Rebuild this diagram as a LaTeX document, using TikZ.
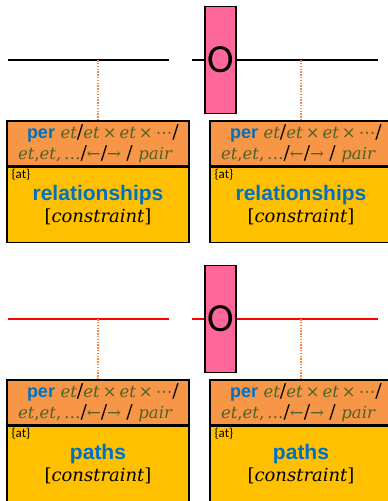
\documentclass[tikz,border=0pt]{standalone}
\usepackage{fontspec}
\setsansfont{Carlito}
\newfontfamily\eqfont{DejaVu Serif}
\newfontfamily\symfont{DejaVu Sans}
\newfontfamily\kwfont{Liberation Sans}
\usetikzlibrary{positioning}

\definecolor{hdrorange}{RGB}{247,150,70}
\definecolor{bodygold}{RGB}{255,192,0}
\definecolor{gatepink}{RGB}{255,102,153}
\definecolor{kwblue}{RGB}{0,112,192}
\definecolor{typegreen}{RGB}{79,98,40}

% header of a relation box
\newcommand{\gr}[1]{{\eqfont\color{typegreen}#1}}
\newcommand{\slsh}{{\eqfont\fontsize{19}{20}\selectfont/}}
\newcommand{\tms}{\hspace{3pt}×\hspace{3pt}}
\newcommand{\hdrtext}{%
  \hspace*{14pt}\mbox{{\kwfont\bfseries\color{kwblue}\fontsize{18}{21}\selectfont per} \gr{\textit{et}}\slsh\gr{\textit{et}\tms\textit{et}\tms{\symfont ⋯}}\slsh}\\
  \hspace*{5pt}\mbox{\gr{\textit{et},\textit{et},\,…}\slsh\gr{←}\slsh\gr{→} \slsh{} \gr{\textit{pair}}}}
\newcommand{\bodytext}[1]{%
  {\kwfont\bfseries\color{kwblue}\fontsize{21}{23}\selectfont #1}\\[3pt]
  {\eqfont\fontsize{18}{20}\selectfont[\textit{constraint}]}}

\tikzset{
  hdrbox/.style={draw=black, line width=1.2pt, fill=hdrorange, minimum width=182pt,
    minimum height=45pt, text width=170pt, inner xsep=6pt, inner ysep=0pt, align=left,
    font=\fontsize{16.5}{21}\selectfont},
  bodybox/.style={draw=black, line width=1.2pt, fill=bodygold, minimum width=182pt,
    minimum height=75pt, align=center, inner sep=0pt},
  gate/.style={draw=black, line width=1.2pt, fill=gatepink, minimum width=31pt,
    minimum height=107pt, inner sep=0pt, font=\sffamily\fontsize{40}{40}\selectfont},
  tag/.style={font=\sffamily\fontsize{13}{14}\selectfont, inner sep=0pt, anchor=north west},
  tether/.style={draw=hdrorange!90!red, line width=1.6pt, dash pattern=on 1.4pt off 1.4pt},
  flow/.style={line width=1.3pt},
  redflow/.style={draw=red, line width=1.1pt}
}

\begin{document}
\begin{tikzpicture}[x=1pt, y=-1pt]
  \useasboundingbox (0,0) rectangle (388,501);
  \clip (0,0) rectangle (388,501);

  % top row: relationships
  \coordinate (relLineA) at (8,60);
  \coordinate (relLineB) at (169,60);
  \coordinate (relLineC) at (192,60);
  \coordinate (relLineD) at (378,60);
  \draw[flow] (relLineA) -- (relLineB);
  \draw[flow] (relLineC) -- (relLineD);
  \node[gate] (relGate) at (220.5,60) {O};

  \node[hdrbox] (relHdrL) at (98,143.5) {\hdrtext};
  \node[bodybox, below=0pt of relHdrL] (relBodyL) {\bodytext{relationships}};
  \node[tag] (relTagL) at ([xshift=5pt,yshift=-2pt]relBodyL.north west) {\{at\}};

  \node[hdrbox] (relHdrR) at (301,143.5) {\hdrtext};
  \node[bodybox, below=0pt of relHdrR] (relBodyR) {\bodytext{relationships}};
  \node[tag] (relTagR) at ([xshift=5pt,yshift=-2pt]relBodyR.north west) {\{at\}};

  \draw[tether] (relHdrL.north) -- (relHdrL.north |- relLineA);
  \draw[tether] (relHdrR.north) -- (relHdrR.north |- relLineD);

  % bottom row: paths
  \coordinate (pathLineA) at (8,319);
  \coordinate (pathLineB) at (169,319);
  \coordinate (pathLineC) at (192,319);
  \coordinate (pathLineD) at (378,319);
  \draw[redflow] (pathLineA) -- (pathLineB);
  \draw[redflow] (pathLineC) -- (pathLineD);
  \node[gate] (pathGate) at (220.5,319) {O};

  \node[hdrbox] (pathHdrL) at (98,402.5) {\hdrtext};
  \node[bodybox, below=0pt of pathHdrL] (pathBodyL) {\bodytext{paths}};
  \node[tag] (pathTagL) at ([xshift=5pt,yshift=-2pt]pathBodyL.north west) {\{at\}};

  \node[hdrbox] (pathHdrR) at (301,402.5) {\hdrtext};
  \node[bodybox, below=0pt of pathHdrR] (pathBodyR) {\bodytext{paths}};
  \node[tag] (pathTagR) at ([xshift=5pt,yshift=-2pt]pathBodyR.north west) {\{at\}};

  \draw[tether] (pathHdrL.north) -- (pathHdrL.north |- pathLineA);
  \draw[tether] (pathHdrR.north) -- (pathHdrR.north |- pathLineD);
\end{tikzpicture}
\end{document}
